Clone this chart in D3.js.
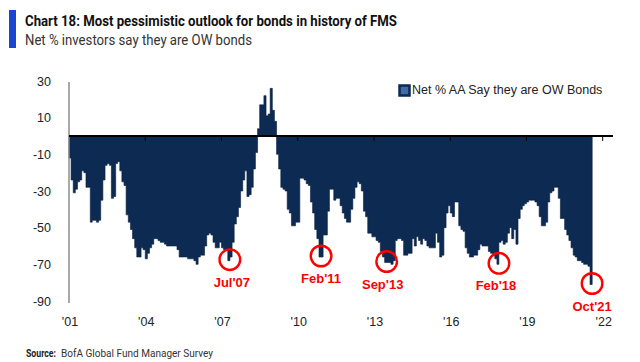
<!DOCTYPE html>
<html>
<head>
<meta charset="utf-8">
<script src="https://cdn.jsdelivr.net/npm/d3@7"></script>
<style>
  body { margin: 0; background: #fff; }
  svg { display: block; }
</style>
</head>
<body>
<script>
// Net % of FMS investors overweight bonds, monthly from Apr 2001 to Oct 2021
var firstMonth = new Date(2001, 3, 1);

var netOW = [
  -12, -24, -31, -29, -25, -24, -19, -20, -28, -28,
  -47, -46, -46, -47, -46, -35, -24, -16, -15, -16,
  -34, -33, -15, -14, -19, -25, -27, -43, -47, -51,
  -56, -61, -66, -66, -61, -62, -67, -64, -61, -59,
  -56, -56, -57, -58, -58, -59, -60, -60, -60, -60,
  -60, -62, -66, -66, -66, -66, -67, -67, -67, -68,
  -70, -66, -65, -65, -60, -54, -53, -54, -58, -61,
  -61, -58, -61, -62, -62, -68, -66, -58, -48, -44,
  -39, -30, -24, -19, -33, -32, -28, -18, -9, 4,
  17, 17, 22, 11, 12, 26, 14, 8, -10, -18,
  -28, -29, -30, -40, -42, -49, -49, -47, -47, -23,
  -23, -24, -26, -27, -36, -42, -51, -56, -66, -66,
  -54, -54, -41, -29, -29, -35, -34, -34, -38, -42,
  -45, -47, -47, -40, -34, -28, -25, -26, -30, -41,
  -44, -53, -53, -55, -55, -57, -58, -63, -66, -69,
  -69, -69, -70, -68, -57, -56, -56, -57, -65, -65,
  -64, -64, -56, -60, -55, -57, -59, -56, -57, -60,
  -61, -61, -61, -53, -58, -66, -65, -50, -42, -38,
  -42, -44, -36, -36, -49, -51, -52, -61, -64, -66,
  -66, -65, -65, -62, -59, -60, -60, -60, -63, -64,
  -65, -67, -70, -58, -57, -59, -58, -53, -50, -56,
  -51, -59, -45, -40, -38, -37, -36, -35, -35, -35,
  -36, -38, -44, -49, -49, -47, -36, -31, -30, -28,
  -28, -34, -45, -45, -51, -54, -57, -61, -65, -66,
  -68, -68, -69, -70, -70, -71, -81
];

var yTicks = [30, 10, -10, -30, -50, -70, -90];
var xTickLabels = ["'01", "'04", "'07", "'10", "'13", "'16", "'19", "'22"];

// circled lows: month index into netOW and label
var lowIndex = [75, 118, 149, 202, 246];
var lowLabels = ["Jul'07", "Feb'11", "Sep'13", "Feb'18", "Oct'21"];
var lowLabelNudge = [2, 0, -4, -3, 0];

var width = 640, height = 362;

var data = netOW.map(function(v, i) {
  return { date: d3.timeMonth.offset(firstMonth, i), value: v };
});
// closing step so the last month gets its width
var stepData = data.concat([{ date: d3.timeMonth.offset(firstMonth, netOW.length), value: netOW[netOW.length - 1] }]);

var x = d3.scaleTime()
    .domain([firstMonth, d3.timeMonth.offset(firstMonth, 252)])
    .range([69, 602.7]);
var y = d3.scaleLinear().domain([-90, 30]).range([301, 81]);

var svg = d3.select("body").append("svg")
    .attr("width", width)
    .attr("height", height);

// header
svg.append("rect")
    .attr("x", 9).attr("y", 10)
    .attr("width", 7).attr("height", 38)
    .attr("fill", "#1d43d1");

svg.append("text")
    .attr("x", 25).attr("y", 26)
    .attr("textLength", 372).attr("lengthAdjust", "spacingAndGlyphs")
    .style("font-family", "'Liberation Sans Narrow', Roboto, sans-serif")
    .style("font-weight", "bold")
    .style("font-size", "15px")
    .style("fill", "#111")
    .text("Chart 18: Most pessimistic outlook for bonds in history of FMS");

svg.append("text")
    .attr("x", 25).attr("y", 45)
    .attr("textLength", 227).attr("lengthAdjust", "spacingAndGlyphs")
    .style("font-family", "'Liberation Sans Narrow', Roboto, sans-serif")
    .style("font-size", "14px")
    .style("fill", "#333")
    .text("Net % investors say they are OW bonds");

// area
var area = d3.area()
    .curve(d3.curveStepAfter)
    .x(function(d) { return x(d.date); })
    .y0(y(0))
    .y1(function(d) { return y(d.value); });

svg.append("path")
    .attr("d", area(stepData))
    .attr("fill", "#0c2a52")
    .attr("stroke", "#081f3f")
    .attr("stroke-width", 0.6);

// y axis: grey line with labels only
svg.append("line")
    .attr("x1", 69).attr("x2", 69)
    .attr("y1", y(30) + 1).attr("y2", y(-90) + 2)
    .attr("stroke", "#8c8c8c")
    .attr("stroke-width", 1.5);

svg.selectAll(".ylab")
    .data(yTicks)
  .enter().append("text")
    .attr("class", "ylab")
    .attr("x", 51)
    .attr("y", function(d) { return y(d) + 4.5; })
    .attr("text-anchor", "end")
    .style("font-family", "'Liberation Sans', Arial, sans-serif")
    .style("font-size", "12.5px")
    .style("fill", "#222")
    .text(function(d) { return d; });

// zero line with ticks
var xTicks = xTickLabels.map(function(l, i) { return d3.timeMonth.offset(firstMonth, 36 * i); });

svg.append("line")
    .attr("x1", 69).attr("x2", 613)
    .attr("y1", y(0)).attr("y2", y(0))
    .attr("stroke", "#000")
    .attr("stroke-width", 2);

svg.selectAll(".xtick")
    .data(xTicks.slice(1))
  .enter().append("line")
    .attr("class", "xtick")
    .attr("x1", function(d) { return x(d); })
    .attr("x2", function(d) { return x(d); })
    .attr("y1", y(0)).attr("y2", y(0) + 5)
    .attr("stroke", "#000")
    .attr("stroke-width", 1);

svg.selectAll(".xlab")
    .data(xTicks)
  .enter().append("text")
    .attr("class", "xlab")
    .attr("x", function(d) { return x(d) + 1; })
    .attr("y", 326)
    .attr("text-anchor", "middle")
    .style("font-family", "'Liberation Sans', Arial, sans-serif")
    .style("font-size", "12.5px")
    .style("fill", "#222")
    .text(function(d, i) { return xTickLabels[i]; });

// legend
svg.append("rect")
    .attr("x", 399.5).attr("y", 85.5)
    .attr("width", 10).attr("height", 10)
    .attr("fill", "#3f6ba8")
    .attr("stroke", "#0c2a52")
    .attr("stroke-width", 2.5);

svg.append("text")
    .attr("x", 412).attr("y", 94)
    .style("font-family", "'Liberation Sans', Arial, sans-serif")
    .style("font-size", "12.5px")
    .style("fill", "#222")
    .text("Net % AA Say they are OW Bonds");

// circled lows
var lows = lowIndex.map(function(idx, i) {
  return { date: d3.timeMonth.offset(firstMonth, idx), value: netOW[idx], label: lowLabels[i], nudge: lowLabelNudge[i] };
});

var halfMonth = (x(d3.timeMonth.offset(firstMonth, 1)) - x(firstMonth)) / 2;

var lowG = svg.selectAll(".low")
    .data(lows)
  .enter().append("g")
    .attr("class", "low")
    .attr("transform", function(d) { return "translate(" + (x(d.date) + halfMonth + 1) + "," + (y(d.value) - 1) + ")"; });

lowG.append("circle")
    .attr("r", 10.3)
    .attr("fill", "none")
    .attr("stroke", "#ff0000")
    .attr("stroke-width", 2.4);

lowG.append("text")
    .attr("x", function(d) { return d.nudge; })
    .attr("y", 27)
    .attr("text-anchor", "middle")
    .style("font-family", "'Liberation Sans', Arial, sans-serif")
    .style("font-weight", "bold")
    .style("font-size", "13px")
    .style("fill", "#ff0000")
    .text(function(d) { return d.label; });

// source
svg.append("text")
    .attr("x", 26).attr("y", 357)
    .attr("textLength", 30).attr("lengthAdjust", "spacingAndGlyphs")
    .style("font-family", "'Liberation Sans Narrow', Roboto, sans-serif")
    .style("font-weight", "bold")
    .style("font-size", "11px")
    .style("fill", "#222")
    .text("Source:");

svg.append("text")
    .attr("x", 61).attr("y", 357)
    .attr("textLength", 152).attr("lengthAdjust", "spacingAndGlyphs")
    .style("font-family", "'Liberation Sans Narrow', Roboto, sans-serif")
    .style("font-size", "11px")
    .style("fill", "#333")
    .text("BofA Global Fund Manager Survey");
</script>
</body>
</html>
